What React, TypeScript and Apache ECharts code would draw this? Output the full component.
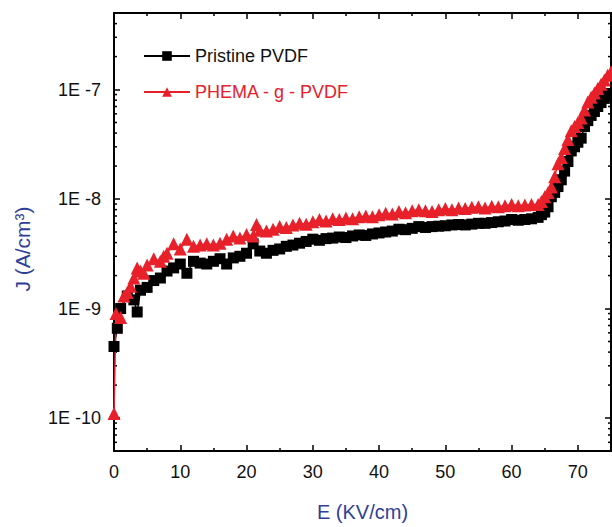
import React, { useEffect, useRef } from "react";
import * as echarts from "echarts";

const X_MIN = 0;
const X_MAX = 75;
const Y_MIN = 5e-11;
const Y_MAX = 5e-7;

const X_TICK_LABELS = ["0", "10", "20", "30", "40", "50", "60", "70"];

const MINOR_Y = [
  6e-11, 7e-11, 8e-11, 9e-11,
  2e-10, 3e-10, 4e-10, 5e-10, 6e-10, 7e-10, 8e-10, 9e-10,
  2e-9, 3e-9, 4e-9, 5e-9, 6e-9, 7e-9, 8e-9, 9e-9,
  2e-8, 3e-8, 4e-8, 5e-8, 6e-8, 7e-8, 8e-8, 9e-8,
  2e-7, 3e-7, 4e-7,
];

const SERIES_NAMES = ["Pristine PVDF", "PHEMA - g - PVDF"];

const pristineE = [
  0, 0.5, 1, 2, 3, 3.5, 4, 5, 6, 7, 8, 9, 10, 11, 12, 13, 14, 15, 16, 17, 18, 19, 20,
  21, 22, 23, 24, 25, 26, 27, 28, 29, 30, 31, 32, 33, 34, 35, 36, 37, 38, 39, 40,
  41, 42, 43, 44, 45, 46, 47, 48, 49, 50, 51, 52, 53, 54, 55, 56, 57, 58, 59, 60,
  61, 62, 63, 64, 64.5, 65, 65.5, 66, 66.5, 67, 67.5, 68, 68.5, 69, 69.5, 70, 70.5,
  71, 71.5, 72, 72.5, 73, 73.5, 74, 74.5, 75,
];
const pristineJ = [
  4.5e-10, 6.6e-10, 1.0e-9, 1.3e-9, 1.2e-9, 9.3e-10, 1.47e-9, 1.56e-9, 1.8e-9, 1.9e-9,
  2.2e-9, 2.35e-9, 2.55e-9, 2.1e-9, 2.7e-9, 2.6e-9, 2.55e-9, 2.7e-9, 2.85e-9, 2.55e-9,
  2.9e-9, 3.0e-9, 3.2e-9, 3.9e-9, 3.35e-9, 3.2e-9, 3.4e-9, 3.5e-9, 3.7e-9, 3.8e-9,
  3.95e-9, 4.1e-9, 4.3e-9, 4.2e-9, 4.35e-9, 4.4e-9, 4.5e-9, 4.45e-9, 4.6e-9, 4.7e-9,
  4.65e-9, 4.8e-9, 4.9e-9, 5.0e-9, 5.1e-9, 5.3e-9, 5.25e-9, 5.4e-9, 5.6e-9, 5.5e-9,
  5.6e-9, 5.65e-9, 5.7e-9, 5.8e-9, 5.85e-9, 5.8e-9, 5.9e-9, 6.0e-9, 6.0e-9, 6.1e-9,
  6.2e-9, 6.3e-9, 6.5e-9, 6.4e-9, 6.5e-9, 6.6e-9, 6.8e-9, 7.2e-9, 7.6e-9, 8.5e-9,
  1.05e-8, 1.15e-8, 1.3e-8, 1.5e-8, 1.8e-8, 2.2e-8, 2.75e-8, 3.0e-8, 3.3e-8, 3.6e-8,
  4.6e-8, 5.2e-8, 5.8e-8, 6.3e-8, 7.0e-8, 7.6e-8, 8.3e-8, 8.8e-8, 9.2e-8,
];

const phemaE = [
  0, 0.3, 1, 1.5, 2, 2.5, 3, 3.5, 4, 4.5, 5, 6, 7, 7.5, 8, 9, 10, 11, 12, 13, 14, 15,
  16, 17, 18, 19, 20, 21, 21.5, 22, 23, 24, 25, 26, 27, 28, 29, 30, 31, 32, 33, 34, 35,
  36, 37, 38, 39, 40, 41, 42, 43, 44, 45, 46, 47, 48, 49, 50, 51, 52, 53, 54, 55, 56,
  57, 58, 59, 60, 61, 62, 63, 64, 64.5, 65, 65.5, 66, 66.5, 67, 67.5, 68, 68.5, 69,
  69.5, 70, 70.5, 71, 71.5, 72, 72.5, 73, 73.5, 74, 74.5, 75,
];
const phemaJ = [
  1.1e-10, 9.0e-10, 8.3e-10, 1.3e-9, 1.4e-9, 1.6e-9, 1.9e-9, 2.35e-9, 2.2e-9, 2.1e-9,
  2.5e-9, 2.85e-9, 2.7e-9, 3.0e-9, 3.2e-9, 3.9e-9, 3.5e-9, 4.3e-9, 3.7e-9, 3.8e-9,
  3.9e-9, 3.8e-9, 3.95e-9, 4.3e-9, 4.6e-9, 4.4e-9, 4.75e-9, 4.6e-9, 5.85e-9, 5.2e-9,
  5.1e-9, 5.3e-9, 5.6e-9, 5.5e-9, 5.8e-9, 6.0e-9, 5.9e-9, 6.2e-9, 6.5e-9, 6.3e-9,
  6.6e-9, 6.5e-9, 6.7e-9, 6.6e-9, 6.9e-9, 7.0e-9, 6.9e-9, 7.2e-9, 7.4e-9, 7.3e-9,
  7.7e-9, 7.5e-9, 7.8e-9, 8.0e-9, 7.8e-9, 7.7e-9, 8.0e-9, 8.2e-9, 8.0e-9, 8.3e-9,
  8.2e-9, 8.4e-9, 8.5e-9, 8.3e-9, 8.6e-9, 8.5e-9, 8.7e-9, 8.9e-9, 8.7e-9, 8.8e-9,
  8.9e-9, 8.9e-9, 9.5e-9, 1.05e-8, 1.15e-8, 1.29e-8, 1.6e-8, 2.1e-8, 2.4e-8, 2.9e-8,
  3.5e-8, 4.2e-8, 4.6e-8, 5.0e-8, 5.5e-8, 6.5e-8, 7.7e-8, 8.5e-8, 9.3e-8, 1.02e-7,
  1.12e-7, 1.22e-7, 1.35e-7, 1.45e-7,
];

const BLUE = "#2f3f98";
const RED = "#e8202a";
const FONT = "Arial, 'Liberation Sans', sans-serif";

function yLabel(v: number): string {
  const e = Math.log10(v);
  const r = Math.round(e);
  if (Math.abs(e - r) > 0.01) return "";
  return "1E " + r;
}

export default function App() {
  const ref = useRef<HTMLDivElement>(null);
  useEffect(() => {
    if (!ref.current) return;
    const chart = echarts.init(ref.current, undefined, { renderer: "svg" });
    const pristine = pristineE.map((e, i) => [e, pristineJ[i]]);
    const phema = phemaE.map((e, i) => [e, phemaJ[i]]);
    const axisLine = { show: true, onZero: false, lineStyle: { color: "#000", width: 2 } };
    const xBase = {
      type: "value" as const,
      min: X_MIN,
      max: X_MAX,
      interval: 10,
      axisLine,
      axisTick: { show: true, inside: true, length: 6, lineStyle: { color: "#000", width: 1.5 } },
      minorTick: { show: true, splitNumber: 2, length: 3, lineStyle: { color: "#000", width: 1.5 } },
      splitLine: { show: false },
    };
    const yBase = {
      type: "log" as const,
      logBase: 10,
      min: Y_MIN,
      max: Y_MAX,
      splitNumber: 4,
      axisLine,
      axisTick: { show: true, inside: true, length: 6, lineStyle: { color: "#000", width: 1.5 } },
      splitLine: { show: false },
    };
    chart.setOption({
      animation: false,
      grid: { left: 114, right: 1, top: 13, bottom: 70, containLabel: false },
      legend: {
        orient: "vertical",
        left: 138,
        top: 42,
        itemWidth: 46,
        itemHeight: 12,
        itemGap: 18,
        textStyle: { fontSize: 18, fontFamily: FONT },
        data: [
          { name: SERIES_NAMES[0], textStyle: { color: "#111" } },
          { name: SERIES_NAMES[1], textStyle: { color: RED } },
        ],
      },
      xAxis: [
        {
          ...xBase,
          position: "bottom",
          name: "E (KV/cm)",
          nameLocation: "middle",
          nameGap: 51,
          nameTextStyle: { color: BLUE, fontSize: 20, fontFamily: FONT },
          axisLabel: {
            show: true,
            margin: 12,
            color: "#111",
            fontSize: 18,
            fontFamily: FONT,
            showMaxLabel: false,
            formatter: (v: number) => (X_TICK_LABELS.includes(String(v)) ? String(v) : ""),
          },
        },
        { ...xBase, position: "top", axisLabel: { show: false } },
      ],
      yAxis: [
        {
          ...yBase,
          position: "left",
          axisLabel: {
            show: true,
            margin: 13,
            color: "#111",
            fontSize: 18,
            fontFamily: FONT,
            formatter: yLabel,
          },
        },
        { ...yBase, position: "right", axisLabel: { show: false } },
      ],
      graphic: [
        {
          type: "text",
          x: 22,
          y: 249,
          rotation: Math.PI / 2,
          style: {
            text: "J (A/cm³)",
            fill: BLUE,
            font: `21px ${FONT}`,
            align: "center",
            verticalAlign: "middle",
          },
        },
      ],
      series: [
        {
          type: "custom",
          silent: true,
          xAxisIndex: 0,
          yAxisIndex: 0,
          clip: false,
          encode: { x: 0, y: 1 },
          data: MINOR_Y.map((v) => [X_MIN, v]),
          renderItem: (_p: any, api: any) => {
            const v = api.value(1);
            const l = api.coord([X_MIN, v]);
            const r = api.coord([X_MAX, v]);
            return {
              type: "group",
              children: [
                { type: "line", shape: { x1: l[0], y1: l[1], x2: l[0] + 3, y2: l[1] }, style: { stroke: "#000", lineWidth: 1.5 } },
                { type: "line", shape: { x1: r[0] - 3, y1: r[1], x2: r[0], y2: r[1] }, style: { stroke: "#000", lineWidth: 1.5 } },
              ],
            };
          },
        },
        {
          name: SERIES_NAMES[0],
          type: "line",
          data: pristine,
          symbol: "rect",
          symbolSize: 11,
          itemStyle: { color: "#000" },
          lineStyle: { color: "#000", width: 1.5 },
          clip: true,
        },
        {
          name: SERIES_NAMES[1],
          type: "line",
          data: phema,
          symbol: "triangle",
          symbolSize: 13,
          itemStyle: { color: RED },
          lineStyle: { color: RED, width: 1.5 },
          clip: true,
        },
      ],
    });
    return () => chart.dispose();
  }, []);
  return (
    <div
      ref={ref}
      style={{ position: "fixed", left: 0, top: 0, width: 612, height: 527, background: "#fff" }}
    />
  );
}
